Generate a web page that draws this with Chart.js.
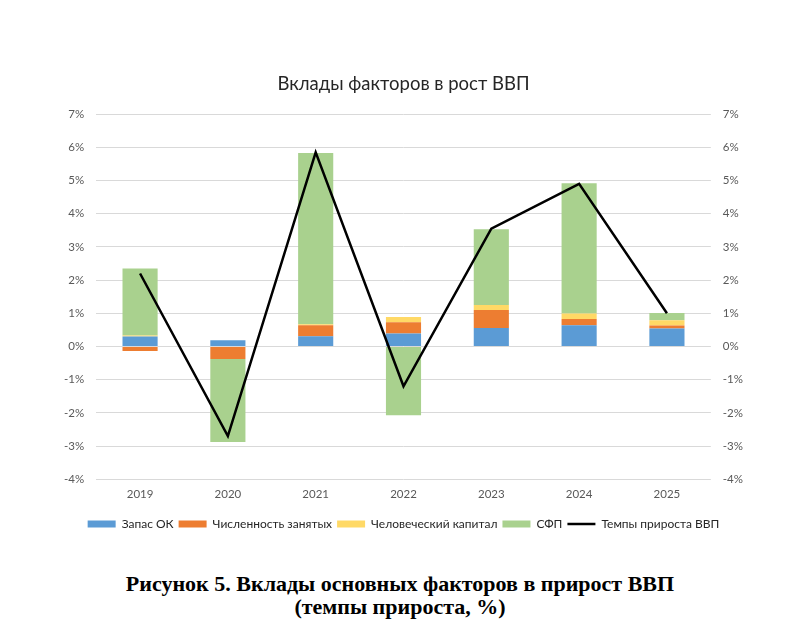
<!DOCTYPE html>
<html lang="ru">
<head>
<meta charset="utf-8">
<script src="https://cdn.jsdelivr.net/npm/chart.js@4.4.1/dist/chart.umd.min.js"></script>
<style>
  html, body { margin: 0; padding: 0; background: #fff; }
  #wrap { position: absolute; left: 0; top: 0; width: 800px; height: 560px; }
  #caption {
    position: absolute; left: 0; top: 572px; width: 800px;
    text-align: center; font-family: "Liberation Serif", "DejaVu Serif", serif;
    font-weight: bold; font-size: 22px; line-height: 23px; color: #000;
  }
</style>
</head>
<body>
<div id="wrap"><canvas id="grafico"></canvas></div>
<div id="caption">Рисунок 5. Вклады основных факторов в прирост ВВП<br>(темпы прироста, %)</div>
<script>
// данные (в процентах)
const anos = ['2019', '2020', '2021', '2022', '2023', '2024', '2025'];
const zapasOK = [0.30, 0.19, 0.31, 0.39, 0.56, 0.64, 0.54];
const chislennost = [-0.14, -0.38, 0.33, 0.34, 0.54, 0.19, 0.09];
const chelKapital = [0.03, 0.00, 0.03, 0.16, 0.15, 0.16, 0.16];
const sfp = [2.02, -2.50, 5.16, -2.07, 2.28, 3.93, 0.22];
const tempyVVP = [2.2, -2.7, 5.85, -1.2, 3.55, 4.9, 1.0];

const fonte = 'Lato';
const corTexto = '#595959';

function eixoY(posicao, mostrarGrade) {
    return {
        type: 'linear',
        position: posicao,
        min: -4,
        max: 7,
        stacked: posicao === 'left',
        border: { display: false },
        grid: { display: mostrarGrade, color: '#d9d9d9', lineWidth: 1, drawTicks: false },
        ticks: {
            stepSize: 1,
            padding: 12,
            color: corTexto,
            font: { family: fonte, size: 11.5 },
            callback: v => v + '%'
        }
    };
}

new Chart(document.getElementById('grafico'), {
    type: 'bar',
    data: {
        labels: anos,
        datasets: [
            { label: 'Запас ОК', data: zapasOK, backgroundColor: '#5b9bd5', pointStyle: 'rect', yAxisID: 'y' },
            { label: 'Численность занятых', data: chislennost, backgroundColor: '#ed7d31', pointStyle: 'rect', yAxisID: 'y' },
            { label: 'Человеческий капитал', data: chelKapital, backgroundColor: '#ffd966', pointStyle: 'rect', yAxisID: 'y' },
            { label: 'СФП', data: sfp, backgroundColor: '#a9d18e', pointStyle: 'rect', yAxisID: 'y' },
            {
                label: 'Темпы прироста ВВП', type: 'line', data: tempyVVP,
                borderColor: '#000', backgroundColor: '#000', borderWidth: 2.5,
                pointRadius: 0, pointStyle: 'line', tension: 0, yAxisID: 'y2', order: -1
            }
        ]
    },
    options: {
        responsive: true,
        maintainAspectRatio: false,
        animation: false,
        datasets: { bar: { barPercentage: 0.4, categoryPercentage: 1.0 } },
        layout: { padding: { left: 52, right: 45, top: 0, bottom: 20 } },
        plugins: {
            title: {
                display: true,
                text: 'Вклады факторов в рост ВВП',
                color: '#262626',
                font: { family: fonte, size: 18.5, weight: 'normal' },
                padding: { top: 73, bottom: 19 }
            },
            tooltip: { enabled: false },
            legend: {
                position: 'bottom',
                labels: {
                    usePointStyle: true,
                    pointStyleWidth: 28,
                    boxHeight: 7,
                    padding: 5,
                    color: '#262626',
                    font: { family: fonte, size: 12 },
                    sort: (a, b) => a.datasetIndex - b.datasetIndex
                }
            }
        },
        scales: {
            x: {
                stacked: true,
                border: { display: false },
                grid: { display: false, drawTicks: false },
                ticks: { color: corTexto, padding: 8, font: { family: fonte, size: 11.5 } },
                afterFit: escala => { escala.height += 4; }
            },
            y: eixoY('left', true),
            y2: eixoY('right', false)
        }
    }
});
</script>
</body>
</html>
